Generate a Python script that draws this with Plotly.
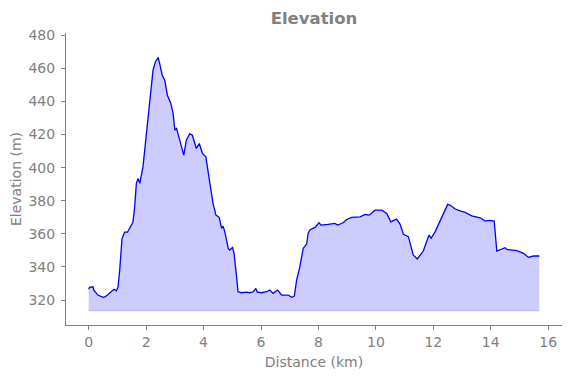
import plotly.graph_objects as go

distance_km = [0.00, 0.03, 0.15, 0.18, 0.32, 0.50, 0.58, 0.73, 0.88, 0.96, 1.02, 1.08, 1.16, 1.25, 1.35,
               1.54, 1.60, 1.66, 1.72, 1.78, 1.89, 2.01, 2.13, 2.24, 2.32, 2.42, 2.47, 2.56, 2.65, 2.74,
               2.86, 2.94, 3.00, 3.06, 3.11, 3.23, 3.31, 3.40, 3.52, 3.61, 3.75, 3.85, 3.96, 4.08, 4.16,
               4.22, 4.33, 4.43, 4.54, 4.63, 4.68, 4.74, 4.86, 4.91, 5.01, 5.06, 5.15, 5.20, 5.32, 5.50,
               5.61, 5.73, 5.82, 5.87, 6.02, 6.19, 6.31, 6.42, 6.58, 6.72, 6.95, 7.06, 7.16, 7.24, 7.35,
               7.47, 7.59, 7.64, 7.70, 7.88, 8.02, 8.09, 8.34, 8.57, 8.67, 8.86, 8.98, 9.16, 9.45, 9.62,
               9.77, 9.97, 10.20, 10.38, 10.52, 10.72, 10.84, 10.96, 11.13, 11.30, 11.44, 11.65, 11.85,
               11.92, 12.06, 12.29, 12.50, 12.58, 12.76, 12.93, 13.11, 13.34, 13.63, 13.80, 13.95, 14.12,
               14.21, 14.50, 14.56, 14.91, 15.14, 15.31, 15.49, 15.69]

elevation_m = [326.5, 327.7, 328.0, 326.0, 323.0, 321.6, 322.0, 324.0, 326.5, 325.6, 327.7, 338.0, 357.0,
               361.0, 361.0, 367.0, 376.0, 390.5, 393.5, 390.5, 400.5, 420.6, 440.8, 458.9, 463.9, 466.6,
               463.0, 455.9, 452.8, 443.8, 438.8, 432.7, 422.7, 423.7, 420.6, 413.6, 407.6, 416.6, 420.6,
               419.6, 411.6, 414.6, 408.6, 406.5, 398.5, 390.5, 378.4, 371.3, 370.0, 363.3, 364.7, 361.2,
               351.2, 350.2, 351.8, 348.2, 334.1, 325.0, 324.4, 324.8, 324.4, 325.0, 327.0, 324.8, 324.4,
               325.0, 326.0, 324.0, 326.0, 323.0, 323.0, 321.6, 322.4, 332.0, 340.0, 351.2, 353.8, 360.3,
               362.3, 363.9, 366.7, 365.3, 365.7, 366.3, 365.3, 366.7, 368.7, 369.9, 370.3, 371.7, 371.3,
               374.3, 374.3, 372.3, 367.3, 368.9, 365.9, 359.7, 358.3, 347.2, 344.8, 349.6, 359.3, 357.3,
               361.2, 370.3, 377.8, 377.4, 375.0, 373.9, 373.0, 370.9, 369.7, 367.7, 368.1, 367.7, 349.6,
               351.6, 350.6, 349.8, 348.2, 345.8, 346.6, 346.6]

base_elevation = 313.5
x_ticks = [0, 2, 4, 6, 8, 10, 12, 14, 16]
y_ticks = [320, 340, 360, 380, 400, 420, 440, 460, 480]

GRAY = "#808080"
FONT = "DejaVu Sans"

fig = go.Figure()
fig.add_trace(go.Scatter(
    x=distance_km, y=[base_elevation] * len(distance_km), mode="lines",
    line=dict(color="rgba(0,0,255,0.2)", width=1), hoverinfo="skip", showlegend=False))
fig.add_trace(go.Scatter(
    x=distance_km, y=elevation_m, mode="lines", fill="tonexty",
    fillcolor="rgba(0,0,255,0.2)", line=dict(color="blue", width=1.3), showlegend=False))

# the page body adds an 8px offset; margins compensate for it
fig.update_layout(
    width=571, height=378,
    margin=dict(l=58, r=17, t=25, b=61),
    paper_bgcolor="white", plot_bgcolor="white",
    font=dict(family=FONT, color=GRAY, size=14),
    title=dict(text="<b>Elevation</b>", xref="paper", x=0.5, xanchor="center",
               yref="container", y=1 - 10 / 378, yanchor="middle",
               font=dict(family=FONT, size=16.5, color=GRAY)),
)
fig.update_xaxes(
    range=[-0.79, 16.48], tickvals=x_ticks, ticktext=[str(v) for v in x_ticks],
    showgrid=False, zeroline=False, showline=True, linecolor=GRAY, linewidth=1,
    ticks="outside", ticklen=4, tickcolor=GRAY, tickfont=dict(size=14, color=GRAY),
    automargin=False,
    title=dict(text="Distance (km)", font=dict(size=14, color=GRAY), standoff=8),
)
fig.update_yaxes(
    range=[304.9, 481.4], tickvals=y_ticks, ticktext=[str(v) for v in y_ticks],
    showgrid=False, zeroline=False, showline=True, linecolor=GRAY, linewidth=1,
    ticks="outside", ticklen=4, tickcolor=GRAY, tickfont=dict(size=14, color=GRAY),
    ticklabelstandoff=3, automargin=False,
    title=dict(text="Elevation (m)", font=dict(size=14, color=GRAY), standoff=5),
)

fig.write_html("out.html")
